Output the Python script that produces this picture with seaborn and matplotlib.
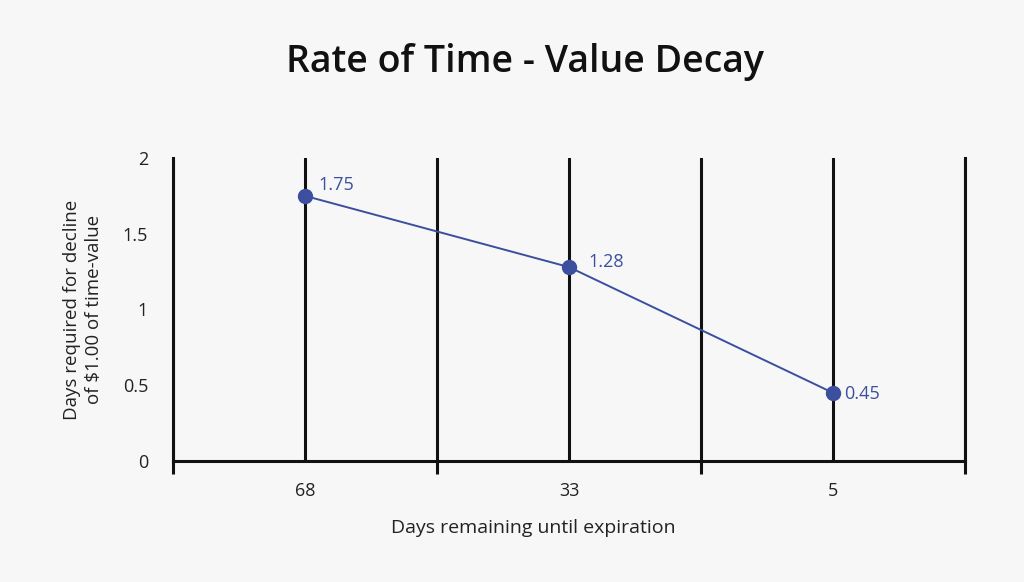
import matplotlib
matplotlib.use("Agg")
import matplotlib.pyplot as plt
import seaborn as sns
import pandas as pd

categories = ["68", "33", "5"]
values = [1.75, 1.28, 0.45]
value_labels = ["1.75", "1.28", "0.45"]
y_ticks = [0, 0.5, 1, 1.5, 2]
y_tick_labels = ["0", "0.5", "1", "1.5", "2"]

title = "Rate of Time - Value Decay"
x_title = "Days remaining until expiration"
y_title = "Days required for decline\nof $1.00 of time-value"

sns.set_theme(style="white")
plt.rcParams["font.family"] = ["Open Sans", "DejaVu Sans"]

line_color = "#3b4f9e"
bg = "#f7f7f7"

fig = plt.figure(figsize=(10.24, 5.82), dpi=100, facecolor=bg)
ax = fig.add_axes([173 / 1024, 1 - 461 / 582, (965 - 173) / 1024, (461 - 158) / 582])
ax.set_facecolor(bg)

df = pd.DataFrame({"days": categories, "value": values})
sns.pointplot(data=df, x="days", y="value", order=categories, color=line_color,
              markers="o", markersize=10, linewidth=1.4, ax=ax, zorder=5)

ax.set_xlim(-0.5, len(categories) - 0.5)
ax.set_ylim(0, 2)
ax.set_yticks(y_ticks)
ax.set_yticklabels(y_tick_labels)
ax.set_yticks([0], minor=True)

ax.set_xticks([i + 0.5 for i in range(-1, len(categories))], minor=True)
ax.grid(False)
ax.xaxis.grid(True, which="both", color="#111111", linewidth=2.2)
ax.set_axisbelow(True)

ax.spines["top"].set_visible(False)
for s in ["left", "right", "bottom"]:
    ax.spines[s].set_visible(True)
    ax.spines[s].set_color("#111111")
    ax.spines[s].set_linewidth(2.2)

ax.tick_params(axis="x", which="major", length=0, pad=15, labelsize=13, labelcolor="#222222")
ax.tick_params(axis="x", which="minor", length=9, width=2.2, color="#111111", direction="out", bottom=True)
ax.tick_params(axis="y", which="major", length=0, pad=18, labelsize=13, labelcolor="#222222")
ax.tick_params(axis="y", which="minor", length=10, width=2.2, color="#111111", direction="out", left=True)

offsets = [(10, 8), (14, 4), (8, -1)]
for i, (v, lab) in enumerate(zip(values, value_labels)):
    ax.annotate(lab, (i, v), xytext=offsets[i], textcoords="offset points",
                ha="left", va="center", color=line_color, fontsize=13)

ax.set_xlabel(x_title, fontsize=14, color="#222222")
ax.xaxis.set_label_coords(0.4545, -0.19)
ax.set_ylabel(y_title, fontsize=13.5, color="#222222", linespacing=1.3)
ax.yaxis.set_label_coords(-0.088, 0.5)

fig.text(525 / 1024, 1 - 62 / 582, title, ha="center", va="center",
         fontsize=27, fontweight="semibold", color="#111111")

fig.savefig("out.png", dpi=100, facecolor=bg)
